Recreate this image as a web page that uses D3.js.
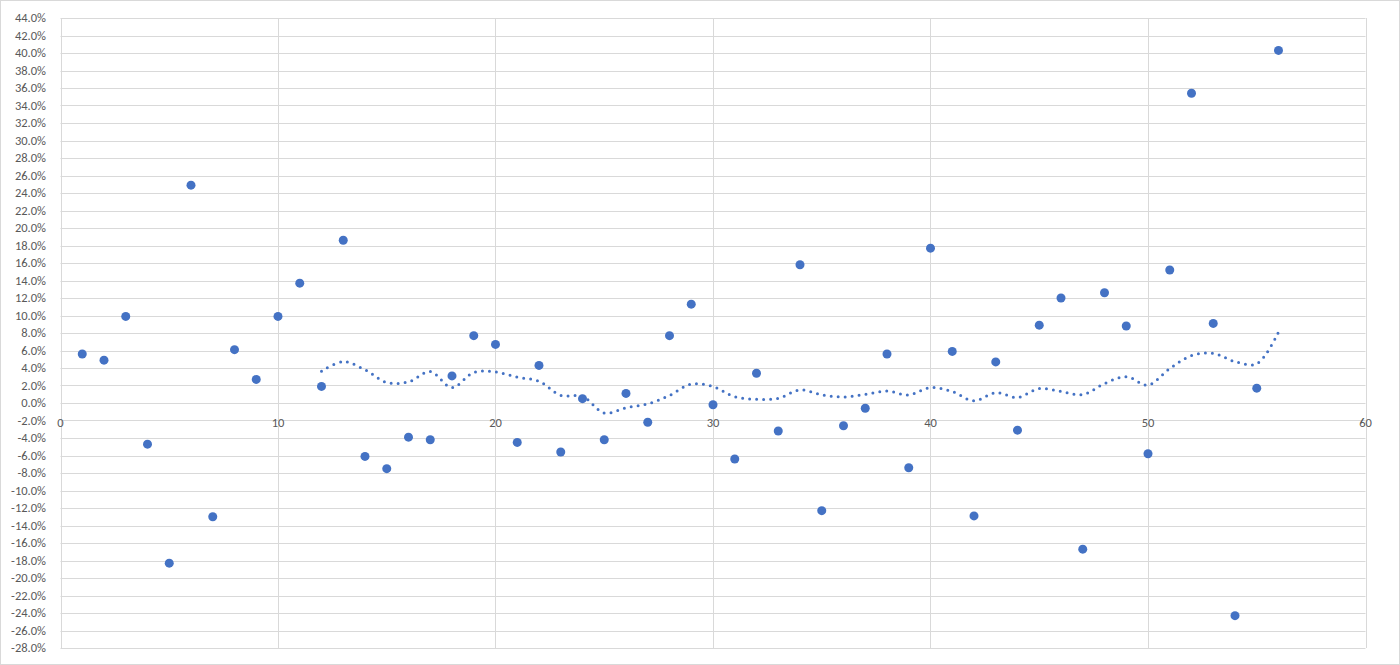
<!DOCTYPE html>
<html><head><meta charset="utf-8">
<script src="https://cdn.jsdelivr.net/npm/d3@7"></script>
<style>body{margin:0;background:#fff;font-family:Calibri,Carlito,"Liberation Sans",sans-serif}</style>
</head><body><div id="chart"></div>
<script>
var xs = d3.range(1, 57),
    values = [5.6,4.9,9.9,-4.7,-18.3,24.9,-13.0,6.1,2.7,9.9,13.7,1.9,18.6,-6.1,-7.5,-3.9,-4.2,3.1,7.7,6.7,
              -4.5,4.3,-5.6,0.5,-4.2,1.1,-2.2,7.7,11.3,-0.2,-6.4,3.4,-3.2,15.8,-12.3,-2.6,-0.6,5.6,-7.4,17.7,
              5.9,-12.9,4.7,-3.1,8.9,12.0,-16.7,12.6,8.8,-5.8,15.2,35.4,9.1,-24.3,1.7,40.3],
    xTicks = [0,10,20,30,40,50,60],
    yTicks = d3.range(-28, 45, 2),
    period = 12;

var W = 1400, H = 665;
var svg = d3.select("#chart").append("svg").attr("width", W).attr("height", H);
svg.append("rect").attr("x",0.5).attr("y",0.5).attr("width",W-1).attr("height",H-1)
   .attr("fill","#fff").attr("stroke","#d9d9d9");

var x = d3.scaleLinear().domain([0,60]).range([60.5,1365.5]);
var y = d3.scaleLinear().domain([-28,44]).range([648,18]);

// grid
svg.append("g").selectAll("line").data(yTicks).enter().append("line")
   .attr("x1", x(0)).attr("x2", x(60))
   .attr("y1", function(d){return Math.round(y(d))+0.5;}).attr("y2", function(d){return Math.round(y(d))+0.5;})
   .attr("stroke","#d9d9d9");
svg.append("g").selectAll("line").data(xTicks).enter().append("line")
   .attr("y1", y(-28)).attr("y2", y(44))
   .attr("x1", function(d){return Math.round(x(d))+0.5;}).attr("x2", function(d){return Math.round(x(d))+0.5;})
   .attr("stroke","#d9d9d9");

// labels
svg.append("g").selectAll("text").data(yTicks).enter().append("text")
   .attr("x", 46).attr("y", function(d){return y(d)+4;})
   .attr("text-anchor","end").attr("font-size",12.5).attr("fill","#595959")
   .text(function(d){return d.toFixed(1)+"%";});
svg.append("g").selectAll("text").data(xTicks).enter().append("text")
   .attr("x", function(d){return x(d);}).attr("y", 427)
   .attr("text-anchor","middle").attr("font-size",12.5).attr("fill","#595959")
   .text(function(d){return d;});

// moving average trendline
var ma = [];
for (var i = period - 1; i < values.length; i++) {
  ma.push({x: xs[i], v: d3.mean(values.slice(i - period + 1, i + 1))});
}
svg.append("path").datum(ma)
   .attr("d", d3.line().x(function(d){return x(d.x);}).y(function(d){return y(d.v);}).curve(d3.curveCatmullRom))
   .attr("fill","none").attr("stroke","#4472C4").attr("stroke-width",3)
   .attr("stroke-linecap","round").attr("stroke-dasharray","0,7");

// points
svg.append("g").selectAll("circle").data(values).enter().append("circle")
   .attr("cx", function(d,i){return x(xs[i]);}).attr("cy", function(d){return y(d);})
   .attr("r", 4.5).attr("fill","#4472C4");
</script></body></html>
